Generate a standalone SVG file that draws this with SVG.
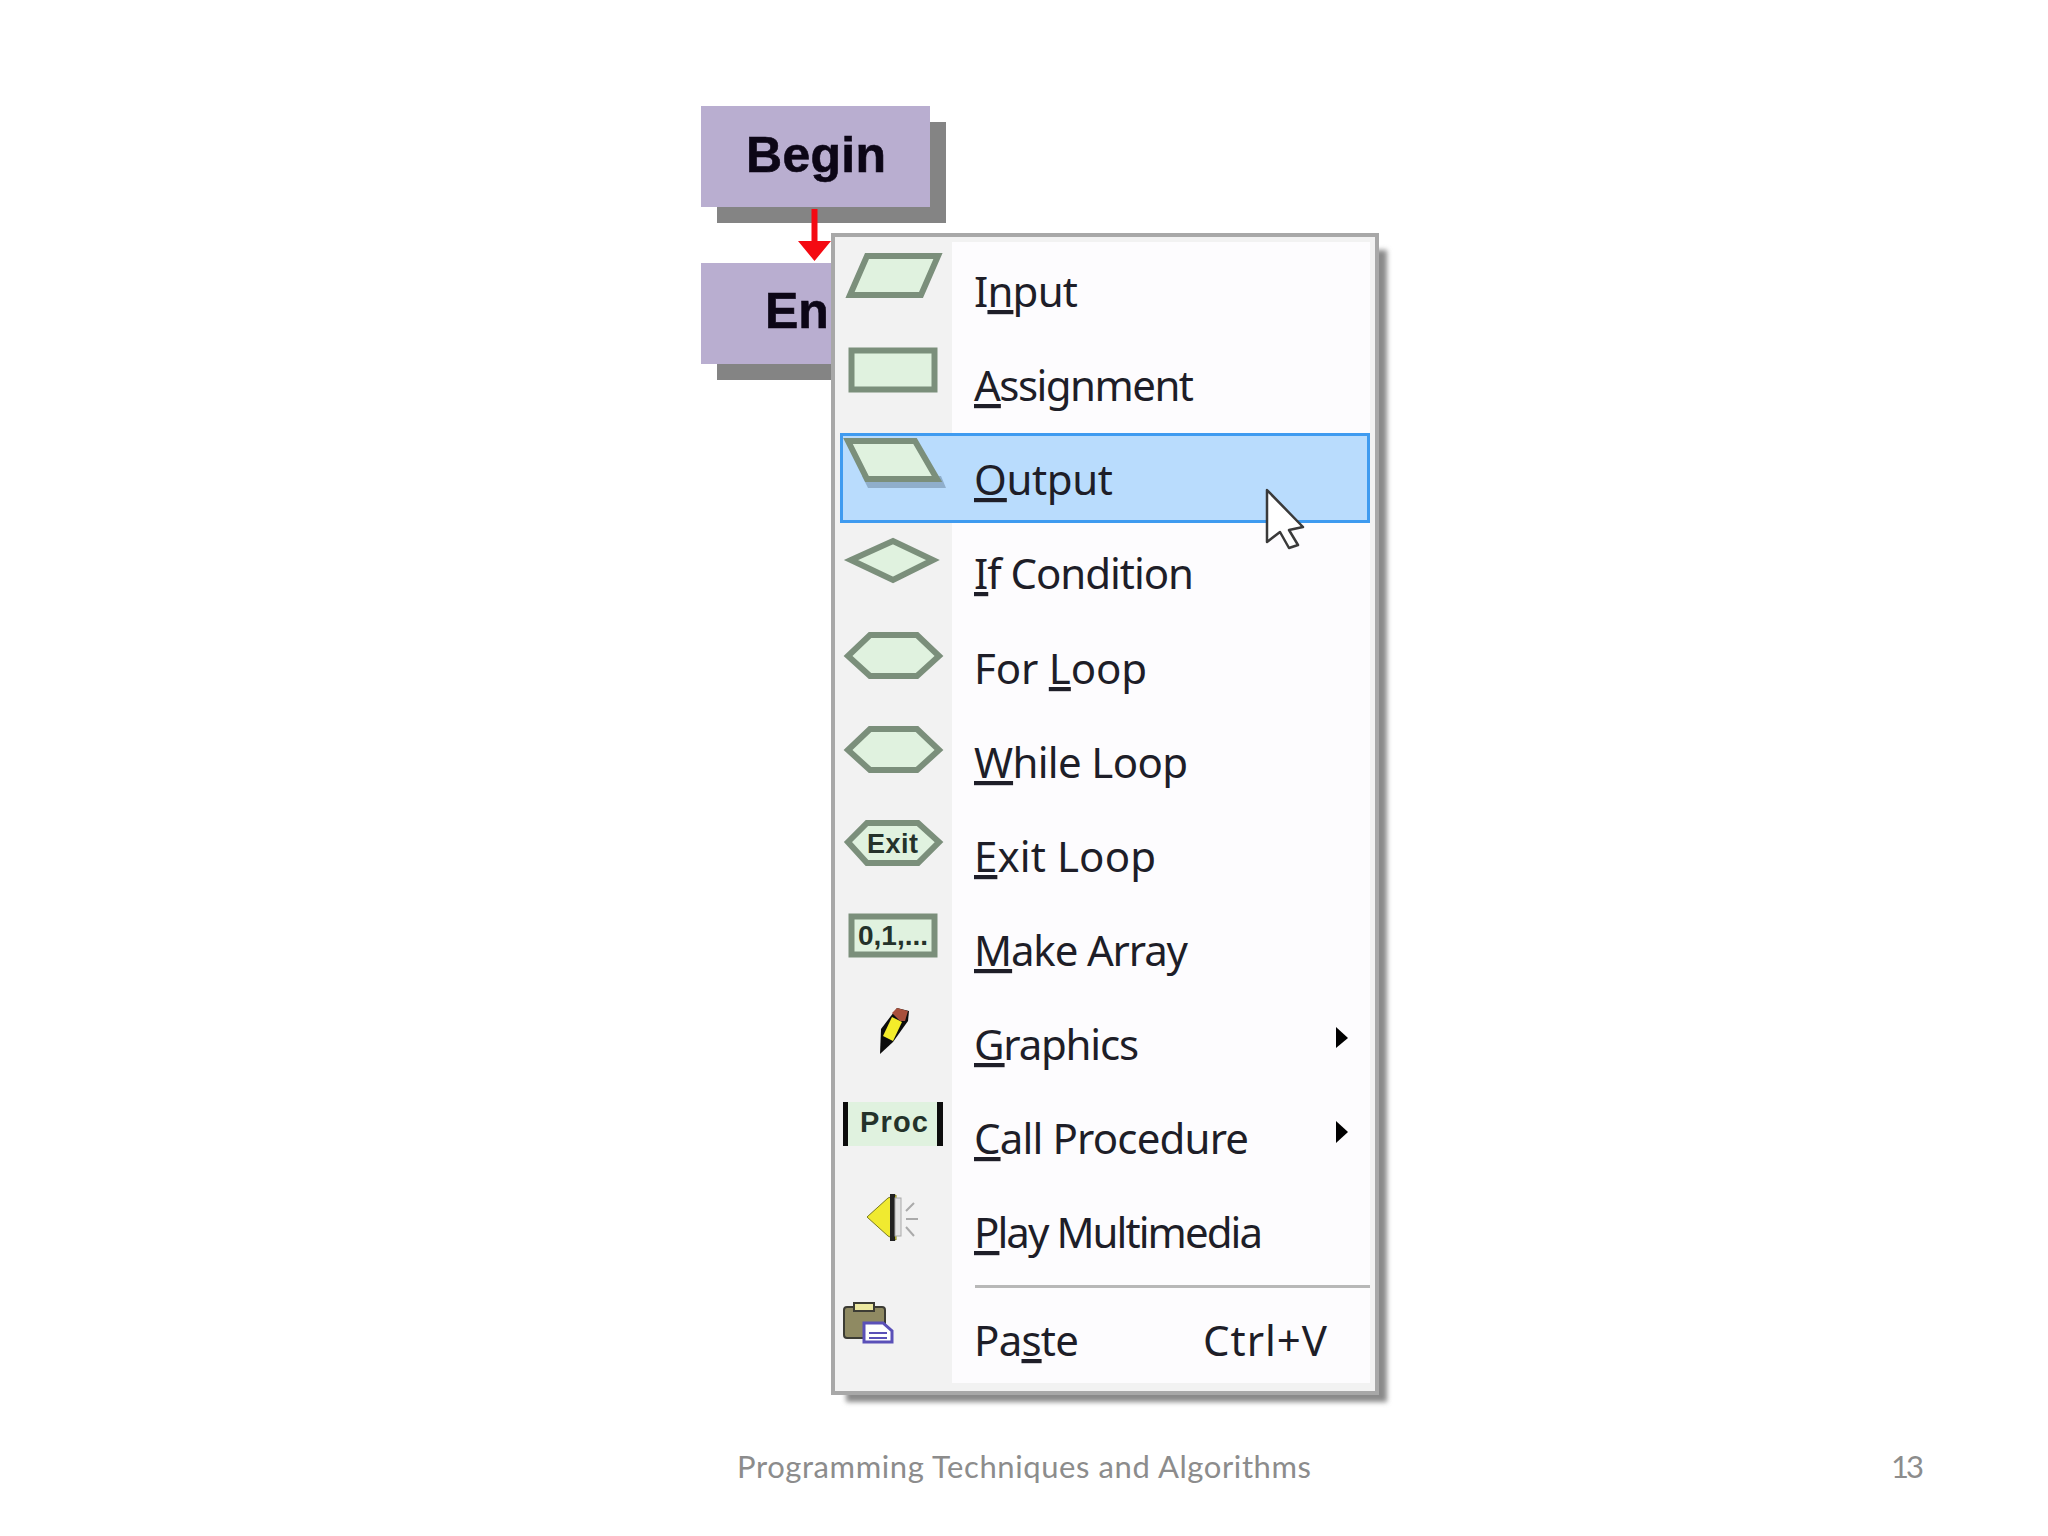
<svg xmlns="http://www.w3.org/2000/svg" width="2048" height="1536" viewBox="0 0 2048 1536">
<style>
.box{fill:#b9aed0}
.sh{fill:#848484}
.nt{font:bold 50px "Liberation Sans",Arial,sans-serif;fill:#0c0616;stroke:#0c0616;stroke-width:.6}
.it{font:42px "Noto Sans","Open Sans",sans-serif;fill:#1e1e28}
.ic{fill:#e0f2df;stroke:#7b8f7b;stroke-width:6}
.il{font-family:"Liberation Sans",Arial,sans-serif;font-weight:bold;fill:#24322a}
.ft{font:31px Lato,"Open Sans",sans-serif;fill:#8c8c8c}
.ul{text-decoration:underline}
</style>
<defs><filter id="blur" x="-5%" y="-5%" width="110%" height="110%"><feGaussianBlur stdDeviation="2.5"/></filter></defs>
<rect width="2048" height="1536" fill="#fff"/>
<g id="node-begin">
<rect class="sh" x="717" y="122" width="229" height="101"/>
<rect class="box" x="701" y="106" width="229" height="101"/>
<text class="nt" x="746" y="172" textLength="140">Begin</text>
</g>
<g id="node-end">
<rect class="sh" x="717" y="279" width="229" height="101"/>
<rect class="box" x="701" y="263" width="229" height="101"/>
<text class="nt" x="765" y="328">En</text>
</g>
<g id="connectors">
<path d="M811.500 209h6v32h13.500l-16.500 20-16.500-20h13.500z" fill="#f40a12"/>
</g>
<g id="menu">
<rect x="846" y="250" width="541" height="1152" fill="#8a8a8a" filter="url(#blur)"/>
<rect x="833" y="235" width="544" height="1158" fill="#f2f2f2" stroke="#a8a8a8" stroke-width="4"/>
<rect x="952" y="242" width="418" height="1141" fill="#fdfcfe"/>
<g id="item-input">
<polygon class="ic" points="850,295 867,256 938,256 921,295"/>
<text class="it" x="974" y="307" textLength="104">I<tspan class="ul">n</tspan>put</text>
</g>
<g id="item-assignment">
<rect class="ic" x="851.500" y="350.500" width="83" height="39"/>
<text class="it" x="974" y="401" textLength="220"><tspan class="ul">A</tspan>ssignment</text>
</g>
<g id="item-output">
<rect x="841.500" y="434.500" width="527" height="87" fill="#b9dcfd" stroke="#3f9bf0" stroke-width="3"/>
<polygon points="868,488 946,488 941,476 862,476" fill="#8faecb"/>
<polygon class="ic" points="848,441 915,441 937,479 867,479"/>
<text class="it" x="974" y="495" textLength="139"><tspan class="ul">O</tspan>utput</text>
</g>
<g id="item-if">
<polygon class="ic" points="851,560 893,541 933,560 893,580"/>
<text class="it" x="974" y="589" textLength="220"><tspan class="ul">I</tspan>f Condition</text>
</g>
<g id="item-for">
<polygon class="ic" points="848,656 870,635 917,635 939,656 917,676 870,676"/>
<text class="it" x="974" y="684" textLength="173">For <tspan class="ul">L</tspan>oop</text>
</g>
<g id="item-while">
<polygon class="ic" points="848,750 870,729 917,729 939,750 917,770 870,770"/>
<text class="it" x="974" y="778" textLength="214"><tspan class="ul">W</tspan>hile Loop</text>
</g>
<g id="item-exit">
<polygon class="ic" points="848,842 867,823 918,823 939,842 918,863 867,863"/>
<text class="il" x="867" y="853" font-size="27" textLength="51">Exit</text>
<text class="it" x="974" y="872" textLength="182"><tspan class="ul">E</tspan>xit Loop</text>
</g>
<g id="item-array">
<rect class="ic" x="851.500" y="916.500" width="83" height="38"/>
<text class="il" x="858" y="945" font-size="28" textLength="70">0,1,...</text>
<text class="it" x="974" y="966" textLength="214"><tspan class="ul">M</tspan>ake Array</text>
</g>
<g id="item-graphics">
<polygon points="880,1054 881,1029 897,1008 909,1011 908,1021 893,1042" fill="#0c0c0c"/>
<polygon points="883,1036 892,1017 902,1022 893,1041" fill="#f4ec2a"/>
<polygon points="892,1013 897,1008 908,1011 905,1021 900,1021" fill="#a8503c"/>
<text class="it" x="974" y="1060" textLength="165"><tspan class="ul">G</tspan>raphics</text>
<polygon points="1336,1027 1348,1038 1336,1048" fill="#000"/>
</g>
<g id="item-call">
<rect x="848" y="1102" width="89" height="44" fill="#e0f2df"/>
<rect x="843" y="1102" width="5" height="44" fill="#0c0c0c"/>
<rect x="937" y="1102" width="6" height="44" fill="#0c0c0c"/>
<text class="il" x="860" y="1132" font-size="29" textLength="68">Proc</text>
<text class="it" x="974" y="1154" textLength="275"><tspan class="ul">C</tspan>all Procedure</text>
<polygon points="1336,1121 1348,1132 1336,1143" fill="#000"/>
</g>
<g id="item-play">
<polygon points="867,1217 888,1198 896,1195 896,1240 888,1236" fill="#f0ea30" stroke="#7a7a20" stroke-width="1"/>
<rect x="890" y="1194" width="5" height="47" fill="#222"/>
<rect x="895" y="1198" width="6" height="38" fill="#e4e4e4" stroke="#aaa"/>
<path d="M906 1219h12M906 1211l8-8M906 1227l8 9" stroke="#aaa" stroke-width="2" fill="none"/>
<text class="it" x="974" y="1248" textLength="289"><tspan class="ul">P</tspan>lay Multimedia</text>
</g>
<rect x="975" y="1285" width="395" height="3" fill="#b8b8b8"/>
<g id="item-paste">
<rect x="844" y="1307" width="41" height="31" rx="3" fill="#8f8a62" stroke="#3c3c34" stroke-width="2"/>
<rect x="854" y="1303" width="20" height="8" fill="#ece8a0" stroke="#3c3c34" stroke-width="2"/>
<path d="M864 1342v-19h19l9 8v11z" fill="#fff" stroke="#5a50b8" stroke-width="3"/>
<path d="M869 1333h18M869 1338h18" stroke="#5a50b8" stroke-width="2"/>
<text class="it" x="974" y="1356" textLength="105">Pa<tspan class="ul">s</tspan>te</text>
<text class="it" x="1203" y="1356" textLength="124">Ctrl+V</text>
</g>
<polygon id="cursor" points="1267,490 1267,542 1280,532 1289,548 1298,545 1289,530 1303,527" fill="#fff" stroke="#3a3a3a" stroke-width="2.500" stroke-linejoin="round"/>
</g>
<text class="ft" x="737" y="1478" textLength="574">Programming Techniques and Algorithms</text>
<text class="ft" x="1891" y="1478" textLength="33">13</text>
</svg>
